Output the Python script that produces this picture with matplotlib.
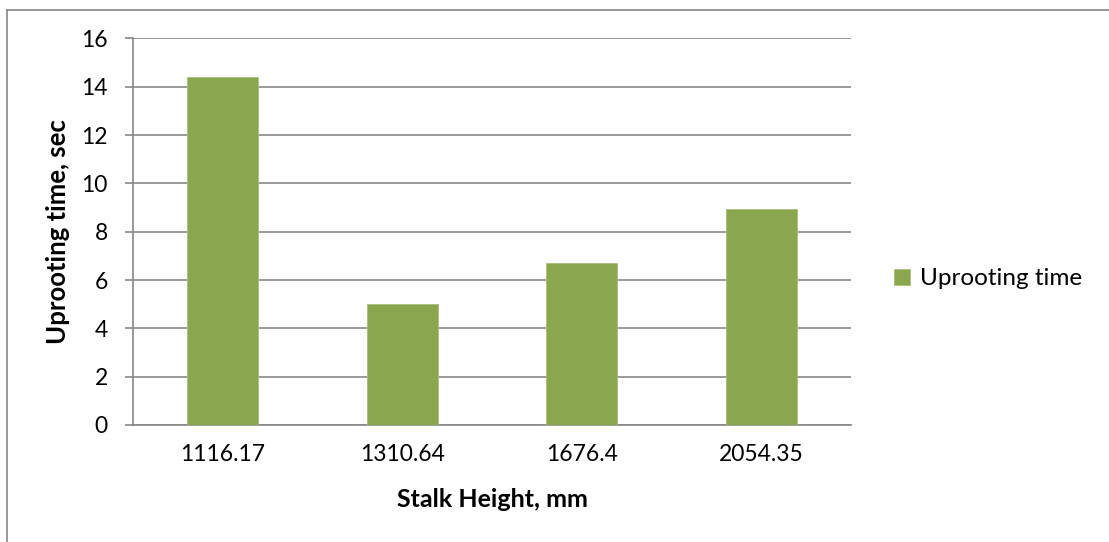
import matplotlib
matplotlib.use("Agg")
import matplotlib.pyplot as plt
from matplotlib.lines import Line2D

# Data
stalk_heights = ["1116.17", "1310.64", "1676.4", "2054.35"]
uprooting_time = [14.4, 5.0, 6.7, 8.95]
y_ticks = [0, 2, 4, 6, 8, 10, 12, 14, 16]

plt.rcParams['font.family'] = ['Lato', 'DejaVu Sans']

bar_color = "#8AA64F"
grid_color = "#878787"

fig = plt.figure(figsize=(11.09, 5.42), dpi=100)
ax = fig.add_axes([0.1199, 0.2159, 0.6475, 0.7131])

x = range(len(stalk_heights))
ax.bar(x, uprooting_time, width=0.395, color=bar_color,
       edgecolor="#A9C07A", linewidth=0.6, label="Uprooting time", zorder=3)

ax.set_xlim(-0.5, len(stalk_heights) - 0.5)
ax.set_ylim(0, 16)
ax.set_yticks(y_ticks)
ax.set_xticks(list(x))
ax.set_xticklabels(stalk_heights)

ax.yaxis.grid(True, color=grid_color, linewidth=1.2, zorder=0)
ax.set_axisbelow(True)

for side in ("top", "right"):
    ax.spines[side].set_visible(False)
for side in ("left", "bottom"):
    ax.spines[side].set_color(grid_color)
    ax.spines[side].set_linewidth(1.2)

ax.tick_params(axis="y", length=6, width=1.2, color=grid_color, pad=12,
               labelsize=16.5, labelcolor="black")
ax.tick_params(axis="x", length=0, pad=14, labelsize=16.5, labelcolor="black")

ax.set_ylabel("Uprooting time, sec", fontsize=18.5, fontweight="bold", labelpad=8)
ax.set_xlabel("Stalk Height, mm", fontsize=18, fontweight="bold", labelpad=16)

ax.legend(loc="center left", bbox_to_anchor=(1.03, 0.378), frameon=False,
          fontsize=17.5, handlelength=0.65, handleheight=0.65, handletextpad=0.4)

# Chart area border (top and left edges)
fig.add_artist(Line2D([7 / 1109, 1.0], [1 - 10 / 542, 1 - 10 / 542],
                      transform=fig.transFigure, color=grid_color, linewidth=1.2))
fig.add_artist(Line2D([7 / 1109, 7 / 1109], [0.0, 1 - 10 / 542],
                      transform=fig.transFigure, color=grid_color, linewidth=1.2))

fig.savefig("out.png", dpi=100)
